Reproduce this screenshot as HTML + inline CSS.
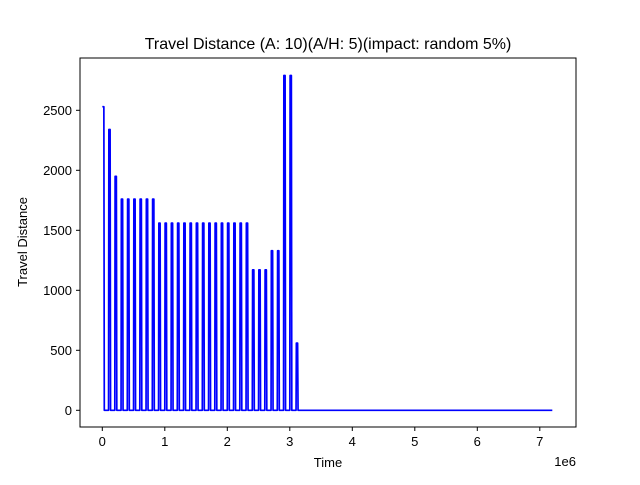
<!DOCTYPE html>
<html><head><meta charset="utf-8"><style>
body{margin:0;background:#fff;}
svg{font-family:"Liberation Sans","DejaVu Sans",sans-serif;}
</style></head><body>
<svg id="chart" width="640" height="480" xmlns="http://www.w3.org/2000/svg">
<rect width="640" height="480" fill="#fff"/>
<text x="328" y="49" text-anchor="middle" font-size="16" fill="#000">Travel Distance (A: 10)(A/H: 5)(impact: random 5%)</text>
<g id="plot"></g>
<rect x="80" y="58" width="496" height="369" fill="none" stroke="#000" stroke-width="1"/>
<text x="328" y="467" text-anchor="middle" font-size="13">Time</text>
<text x="576" y="466" text-anchor="end" font-size="13">1e6</text>
<text transform="translate(27,242) rotate(-90)" text-anchor="middle" font-size="13">Travel Distance</text>
</svg>
<script>
const spikeTimes = [0,0.1,0.2,0.3,0.4,0.5,0.6,0.7,0.8,0.9,1.0,1.1,1.2,1.3,1.4,1.5,1.6,1.7,1.8,1.9,2.0,2.1,2.2,2.3,2.4,2.5,2.6,2.7,2.8,2.9,3.0,3.1];
const spikeValues = [2530,2340,1950,1760,1760,1760,1760,1760,1760,1560,1560,1560,1560,1560,1560,1560,1560,1560,1560,1560,1560,1560,1560,1560,1170,1170,1170,1330,1330,2790,2790,560];
const endTime = 7.2;
const xTicks = [0,1,2,3,4,5,6,7];
const yTicks = [0,500,1000,1500,2000,2500];
const NS="http://www.w3.org/2000/svg";
const X = t => 102.3 + t*62.5;
const Y = v => 410.3 - v*0.12;
const g = document.getElementById('plot');
function mk(tag, attrs){const e=document.createElementNS(NS,tag);for(const k in attrs)e.setAttribute(k,attrs[k]);return e;}
xTicks.forEach(t=>{
  const l=mk('line',{x1:X(t),x2:X(t),y1:427,y2:431,stroke:'#000'});
  
  
  g.appendChild(l);
  const tx=mk('text',{x:X(t),y:446,'text-anchor':'middle','font-size':13});
  
  
  tx.textContent=t;g.appendChild(tx);
});
yTicks.forEach(v=>{
  const l=mk('line',{x1:76,x2:80,y1:Y(v),y2:Y(v),stroke:'#000'});
  
  
  g.appendChild(l);
  const tx=mk('text',{x:72,y:Y(v)+4.5,'text-anchor':'end','font-size':13});
  
  
  tx.textContent=v;g.appendChild(tx);
});
let pts=[];
spikeTimes.forEach((t,i)=>{
  const v=spikeValues[i];
  if(i>0) pts.push([t,0],[t+0.005,v]); else pts.push([t,v]);
  pts.push([t+0.025,v],[t+0.032,0]);
});
pts.push([endTime,0]);
const p=mk('polyline',{points:pts.map(q=>X(q[0]).toFixed(2)+','+Y(q[1]).toFixed(2)).join(' '),fill:'none',stroke:'#0000ff','stroke-width':1.7,'stroke-linejoin':'round'});


g.appendChild(p);
</script>
</body></html>
